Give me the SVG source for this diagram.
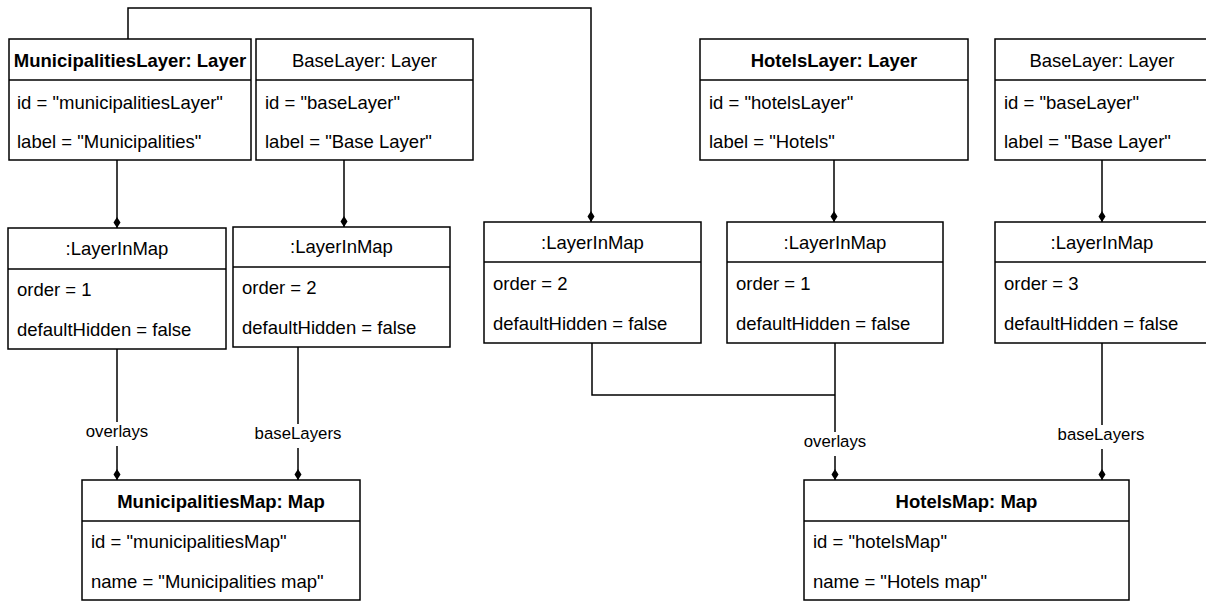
<svg xmlns="http://www.w3.org/2000/svg" width="1206" height="602" viewBox="0 0 1206 602">
  <style>
    .box { fill: #ffffff; stroke: #000000; stroke-width: 1.5; }
    .sep { stroke: #000000; stroke-width: 1.5; }
    .t { font-family: "Liberation Sans", Arial, sans-serif; font-size: 18.5px; fill: #000000; }
    .title { text-anchor: middle; }
    .bold { font-weight: bold; }
    .edge { fill: none; stroke: #000000; stroke-width: 1.5; }
    .lbl { font-family: "Liberation Sans", Arial, sans-serif; font-size: 16.8px; fill: #000000; text-anchor: middle; }
    .lblbg { fill: #ffffff; }
  </style>
  <defs>
    <marker id="diamond" markerUnits="userSpaceOnUse" markerWidth="12" markerHeight="8" viewBox="0 -4 12 8" refX="11" refY="0" orient="auto">
      <path d="M0,0 L5.5,-3.5 L11,0 L5.5,3.5 z" fill="#000000"/>
    </marker>
  </defs>
  <rect width="1206" height="602" fill="#ffffff"/>

  <!-- connectors -->
  <g id="connectors">
    <path class="edge" d="M117,160 V228" marker-end="url(#diamond)"/>
    <path class="edge" d="M344,160 V227" marker-end="url(#diamond)"/>
    <path class="edge" d="M128,39 V8 H591 V222" marker-end="url(#diamond)"/>
    <path class="edge" d="M834,160 V222" marker-end="url(#diamond)"/>
    <path class="edge" d="M1102,160 V222" marker-end="url(#diamond)"/>
    <path class="edge" d="M117,349 V480" marker-end="url(#diamond)"/>
    <path class="edge" d="M298,347 V480" marker-end="url(#diamond)"/>
    <path class="edge" d="M592,343 V395 H835"/>
    <path class="edge" d="M835,343 V480" marker-end="url(#diamond)"/>
    <path class="edge" d="M1102,343 V480" marker-end="url(#diamond)"/>
    <rect class="lblbg" x="83" y="422" width="68" height="24"/>
    <text class="lbl" x="117" y="437">overlays</text>
    <rect class="lblbg" x="253" y="424" width="90" height="24"/>
    <text class="lbl" x="298" y="439">baseLayers</text>
    <rect class="lblbg" x="801" y="432" width="68" height="24"/>
    <text class="lbl" x="835" y="447">overlays</text>
    <rect class="lblbg" x="1056" y="425" width="90" height="24"/>
    <text class="lbl" x="1101" y="440">baseLayers</text>
  </g>

  <!-- layers, left map -->
  <g id="municipalitiesLayer">
    <rect class="box" x="9" y="39" width="242" height="121"/>
    <line class="sep" x1="9" y1="80" x2="251" y2="80"/>
    <text class="t title bold" x="130" y="67">MunicipalitiesLayer: Layer</text>
    <text class="t" x="17" y="109">id = "municipalitiesLayer"</text>
    <text class="t" x="17" y="148">label = "Municipalities"</text>
  </g>
  <g id="baseLayer1">
    <rect class="box" x="256" y="39" width="217" height="121"/>
    <line class="sep" x1="256" y1="80" x2="473" y2="80"/>
    <text class="t title" x="364.5" y="67">BaseLayer: Layer</text>
    <text class="t" x="265" y="109">id = "baseLayer"</text>
    <text class="t" x="265" y="148">label = "Base Layer"</text>
  </g>

  <!-- layers, right map -->
  <g id="hotelsLayer">
    <rect class="box" x="700" y="39" width="268" height="121"/>
    <line class="sep" x1="700" y1="80" x2="968" y2="80"/>
    <text class="t title bold" x="834" y="67">HotelsLayer: Layer</text>
    <text class="t" x="709" y="109">id = "hotelsLayer"</text>
    <text class="t" x="709" y="148">label = "Hotels"</text>
  </g>
  <g id="baseLayer2">
    <rect class="box" x="995" y="39" width="214" height="121"/>
    <line class="sep" x1="995" y1="80" x2="1209" y2="80"/>
    <text class="t title" x="1102" y="67">BaseLayer: Layer</text>
    <text class="t" x="1004" y="109">id = "baseLayer"</text>
    <text class="t" x="1004" y="148">label = "Base Layer"</text>
  </g>

  <!-- layer-in-map links -->
  <g id="layerInMap1">
    <rect class="box" x="8" y="228" width="218" height="121"/>
    <line class="sep" x1="8" y1="269" x2="226" y2="269"/>
    <text class="t title" x="117" y="255">:LayerInMap</text>
    <text class="t" x="17" y="296">order = 1</text>
    <text class="t" x="17" y="336">defaultHidden = false</text>
  </g>
  <g id="layerInMap2">
    <rect class="box" x="233" y="227" width="217" height="120"/>
    <line class="sep" x1="233" y1="267" x2="450" y2="267"/>
    <text class="t title" x="341.5" y="253">:LayerInMap</text>
    <text class="t" x="242" y="294">order = 2</text>
    <text class="t" x="242" y="334">defaultHidden = false</text>
  </g>
  <g id="layerInMap3">
    <rect class="box" x="484" y="222" width="217" height="121"/>
    <line class="sep" x1="484" y1="262" x2="701" y2="262"/>
    <text class="t title" x="592.5" y="249">:LayerInMap</text>
    <text class="t" x="493" y="290">order = 2</text>
    <text class="t" x="493" y="330">defaultHidden = false</text>
  </g>
  <g id="layerInMap4">
    <rect class="box" x="727" y="222" width="216" height="121"/>
    <line class="sep" x1="727" y1="262" x2="943" y2="262"/>
    <text class="t title" x="835" y="249">:LayerInMap</text>
    <text class="t" x="736" y="290">order = 1</text>
    <text class="t" x="736" y="330">defaultHidden = false</text>
  </g>
  <g id="layerInMap5">
    <rect class="box" x="995" y="222" width="214" height="121"/>
    <line class="sep" x1="995" y1="262" x2="1209" y2="262"/>
    <text class="t title" x="1102" y="249">:LayerInMap</text>
    <text class="t" x="1004" y="290">order = 3</text>
    <text class="t" x="1004" y="330">defaultHidden = false</text>
  </g>

  <!-- maps -->
  <g id="municipalitiesMap">
    <rect class="box" x="82" y="480" width="278" height="120"/>
    <line class="sep" x1="82" y1="521" x2="360" y2="521"/>
    <text class="t title bold" x="221" y="508">MunicipalitiesMap: Map</text>
    <text class="t" x="91" y="548">id = "municipalitiesMap"</text>
    <text class="t" x="91" y="588">name = "Municipalities map"</text>
  </g>
  <g id="hotelsMap">
    <rect class="box" x="804" y="480" width="325" height="120"/>
    <line class="sep" x1="804" y1="521" x2="1129" y2="521"/>
    <text class="t title bold" x="966.5" y="508">HotelsMap: Map</text>
    <text class="t" x="813" y="548">id = "hotelsMap"</text>
    <text class="t" x="813" y="588">name = "Hotels map"</text>
  </g>
</svg>
